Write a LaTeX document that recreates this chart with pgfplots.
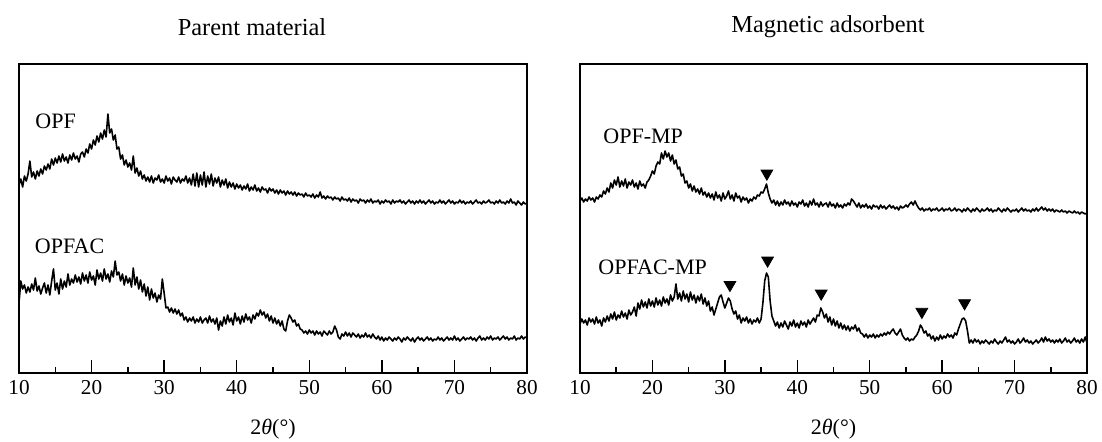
\documentclass[border=0pt]{standalone}
\usepackage{fontspec}
\setmainfont{Liberation Serif}
\usepackage{pgfplots}
\pgfplotsset{compat=1.18}
\begin{document}
\begin{tikzpicture}
\useasboundingbox (0,0) rectangle (551pt,220.5pt);
\pgfplotsset{xrdax/.style={
  scale only axis, height=154.5pt,
  xmin=10, xmax=80, ymin=0, ymax=309,
  xtick={10,20,...,80}, minor xtick={15,25,...,75},
  xtick pos=bottom, ytick=\empty,
  tick align=inside,
  major tick length=6.5pt, minor tick length=3pt,
  every tick/.append style={black, line width=0.75pt},
  axis line style={line width=0.9pt},
  xticklabel style={font=\fontsize{10.6}{12}\selectfont},
  /pgf/number format/assume math mode=true,
  anchor=south west,
}}
\pgfplotsset{xrdline/.style={black, line width=0.8pt, line join=round, mark=none}}
\pgfplotsset{tri/.style={only marks, mark=triangle*, mark size=3.4pt, mark options={rotate=180, fill=black, draw=black}}}

\begin{axis}[xrdax, width=254pt, at={(9.5pt,34pt)}]
\addplot[xrdline] coordinates {(10.00,188)(10.25,194)(10.50,186)(10.75,197)(11.00,192)(11.25,199)(11.50,212)(11.75,196)(12.00,201)(12.25,194)(12.50,202)(12.75,197)(13.00,204)(13.25,199)(13.50,207)(13.75,203)(14.00,209)(14.25,204)(14.50,214)(14.75,208)(15.00,215)(15.25,210)(15.50,217)(15.75,211)(16.00,219)(16.25,212)(16.50,216)(16.75,210)(17.00,218)(17.25,213)(17.50,220)(17.75,214)(18.00,217)(18.25,211)(18.50,219)(18.75,221)(19.00,216)(19.25,224)(19.50,220)(19.75,229)(20.00,224)(20.25,233)(20.50,228)(20.75,237)(21.00,231)(21.25,240)(21.50,234)(21.75,243)(22.00,236)(22.25,259)(22.50,240)(22.75,244)(23.00,233)(23.25,238)(23.50,224)(23.75,226)(24.00,214)(24.25,218)(24.50,208)(24.75,213)(25.00,206)(25.25,210)(25.50,203)(25.75,217)(26.00,200)(26.25,205)(26.50,197)(26.75,202)(27.00,194)(27.25,198)(27.50,192)(27.75,196)(28.00,191)(28.25,197)(28.50,190)(28.75,195)(29.00,193)(29.25,198)(29.50,191)(29.75,194)(30.00,190)(30.25,197)(30.50,192)(30.75,195)(31.00,189)(31.25,196)(31.50,193)(31.75,191)(32.00,196)(32.25,190)(32.50,194)(32.75,192)(33.00,197)(33.25,190)(33.50,195)(33.75,188)(34.00,199)(34.25,187)(34.50,200)(34.75,186)(35.00,198)(35.25,188)(35.50,201)(35.75,186)(36.00,197)(36.25,189)(36.50,199)(36.75,187)(37.00,195)(37.25,190)(37.50,196)(37.75,186)(38.00,193)(38.25,188)(38.50,194)(38.75,185)(39.00,191)(39.25,186)(39.50,190)(39.75,184)(40.00,189)(40.25,185)(40.50,188)(40.75,183)(41.00,187)(41.25,184)(41.50,189)(41.75,182)(42.00,186)(42.25,183)(42.50,188)(42.75,182)(43.00,185)(43.25,181)(43.50,186)(43.75,183)(44.00,184)(44.25,180)(44.50,185)(44.75,182)(45.00,184)(45.25,180)(45.50,183)(45.75,179)(46.00,183)(46.25,180)(46.50,182)(46.75,178)(47.00,182)(47.25,179)(47.50,181)(47.75,178)(48.00,181)(48.25,177)(48.50,180)(48.75,178)(49.00,179)(49.25,176)(49.50,180)(49.75,177)(50.00,178)(50.25,176)(50.50,179)(50.75,175)(51.00,178)(51.25,176)(51.50,181)(51.75,175)(52.00,177)(52.25,174)(52.50,177)(52.75,175)(53.00,176)(53.25,173)(53.50,176)(53.75,174)(54.00,175)(54.25,172)(54.50,176)(54.75,173)(55.00,174)(55.25,172)(55.50,175)(55.75,171)(56.00,174)(56.25,172)(56.50,173)(56.75,170)(57.00,174)(57.25,172)(57.50,173)(57.75,170)(58.00,173)(58.25,171)(58.50,174)(58.75,170)(59.00,172)(59.25,171)(59.50,173)(59.75,169)(60.00,172)(60.25,170)(60.50,173)(60.75,171)(61.00,172)(61.25,169)(61.50,173)(61.75,170)(62.00,172)(62.25,171)(62.50,173)(62.75,170)(63.00,172)(63.25,169)(63.50,171)(63.75,173)(64.00,170)(64.25,172)(64.50,169)(64.75,172)(65.00,170)(65.25,173)(65.50,170)(65.75,172)(66.00,169)(66.25,171)(66.50,173)(66.75,170)(67.00,172)(67.25,169)(67.50,171)(67.75,170)(68.00,173)(68.25,170)(68.50,172)(68.75,169)(69.00,171)(69.25,173)(69.50,170)(69.75,172)(70.00,169)(70.25,171)(70.50,170)(70.75,173)(71.00,170)(71.25,172)(71.50,169)(71.75,171)(72.00,170)(72.25,172)(72.50,169)(72.75,171)(73.00,173)(73.25,170)(73.50,171)(73.75,169)(74.00,172)(74.25,170)(74.50,171)(74.75,173)(75.00,170)(75.25,171)(75.50,169)(75.75,172)(76.00,170)(76.25,173)(76.50,170)(76.75,171)(77.00,169)(77.25,172)(77.50,170)(77.75,174)(78.00,170)(78.25,171)(78.50,168)(78.75,172)(79.00,170)(79.25,168)(79.50,171)(79.75,169)(80.00,170)};
\addplot[xrdline] coordinates {(10.00,70)(10.25,92)(10.50,84)(10.75,88)(11.00,80)(11.25,86)(11.50,81)(11.75,89)(12.00,83)(12.25,95)(12.50,82)(12.75,87)(13.00,79)(13.25,85)(13.50,90)(13.75,80)(14.00,88)(14.25,78)(14.50,92)(14.75,104)(15.00,83)(15.25,90)(15.50,79)(15.75,94)(16.00,84)(16.25,92)(16.50,86)(16.75,99)(17.00,88)(17.25,94)(17.50,90)(17.75,98)(18.00,91)(18.25,96)(18.50,89)(18.75,100)(19.00,92)(19.25,98)(19.50,90)(19.75,101)(20.00,93)(20.25,97)(20.50,88)(20.75,103)(21.00,94)(21.25,100)(21.50,92)(21.75,104)(22.00,94)(22.25,99)(22.50,91)(22.75,102)(23.00,96)(23.25,112)(23.50,98)(23.75,101)(24.00,92)(24.25,99)(24.50,88)(24.75,97)(25.00,90)(25.25,95)(25.50,86)(25.75,105)(26.00,88)(26.25,96)(26.50,84)(26.75,93)(27.00,81)(27.25,89)(27.50,77)(27.75,86)(28.00,73)(28.25,84)(28.50,75)(28.75,80)(29.00,71)(29.25,78)(29.50,74)(29.75,94)(30.00,80)(30.25,65)(30.50,66)(30.75,61)(31.00,65)(31.25,60)(31.50,64)(31.75,59)(32.00,63)(32.25,57)(32.50,60)(32.75,53)(33.00,56)(33.25,51)(33.50,55)(33.75,52)(34.00,56)(34.25,50)(34.50,54)(34.75,51)(35.00,56)(35.25,50)(35.50,53)(35.75,55)(36.00,50)(36.25,57)(36.50,51)(36.75,54)(37.00,49)(37.25,55)(37.50,43)(37.75,52)(38.00,47)(38.25,56)(38.50,49)(38.75,58)(39.00,51)(39.25,55)(39.50,48)(39.75,60)(40.00,52)(40.25,56)(40.50,49)(40.75,57)(41.00,51)(41.25,59)(41.50,53)(41.75,56)(42.00,50)(42.25,58)(42.50,54)(42.75,60)(43.00,57)(43.25,63)(43.50,58)(43.75,61)(44.00,55)(44.25,59)(44.50,52)(44.75,57)(45.00,50)(45.25,55)(45.50,49)(45.75,53)(46.00,47)(46.25,52)(46.50,44)(46.75,42)(47.00,52)(47.25,58)(47.50,55)(47.75,51)(48.00,53)(48.25,47)(48.50,49)(48.75,44)(49.00,43)(49.25,40)(49.50,42)(49.75,39)(50.00,43)(50.25,40)(50.50,42)(50.75,38)(51.00,42)(51.25,39)(51.50,41)(51.75,37)(52.00,42)(52.25,40)(52.50,38)(52.75,42)(53.00,39)(53.25,41)(53.50,47)(53.75,43)(54.00,36)(54.25,34)(54.50,39)(54.75,37)(55.00,41)(55.25,37)(55.50,40)(55.75,36)(56.00,40)(56.25,38)(56.50,36)(56.75,39)(57.00,35)(57.25,38)(57.50,36)(57.75,40)(58.00,36)(58.25,38)(58.50,35)(58.75,39)(59.00,36)(59.25,34)(59.50,37)(59.75,33)(60.00,36)(60.25,32)(60.50,35)(60.75,33)(61.00,36)(61.25,34)(61.50,32)(61.75,35)(62.00,33)(62.25,36)(62.50,34)(62.75,31)(63.00,35)(63.25,33)(63.50,36)(63.75,34)(64.00,32)(64.25,35)(64.50,31)(64.75,34)(65.00,36)(65.25,33)(65.50,35)(65.75,32)(66.00,34)(66.25,36)(66.50,33)(66.75,35)(67.00,32)(67.25,34)(67.50,33)(67.75,36)(68.00,33)(68.25,35)(68.50,32)(68.75,34)(69.00,36)(69.25,33)(69.50,35)(69.75,33)(70.00,37)(70.25,33)(70.50,35)(70.75,32)(71.00,34)(71.25,36)(71.50,33)(71.75,35)(72.00,34)(72.25,36)(72.50,33)(72.75,35)(73.00,32)(73.25,35)(73.50,37)(73.75,33)(74.00,35)(74.25,33)(74.50,36)(74.75,34)(75.00,37)(75.25,33)(75.50,35)(75.75,34)(76.00,36)(76.25,33)(76.50,35)(76.75,37)(77.00,34)(77.25,36)(77.50,33)(77.75,35)(78.00,34)(78.25,37)(78.50,33)(78.75,35)(79.00,34)(79.25,37)(79.50,34)(79.75,36)(80.00,35)};
\end{axis}

\begin{axis}[xrdax, width=253.5pt, at={(290pt,34pt)}]
\addplot[xrdline] coordinates {(10.00,172)(10.25,175)(10.50,171)(10.75,174)(11.00,172)(11.25,176)(11.50,173)(11.75,175)(12.00,171)(12.25,176)(12.50,174)(12.75,178)(13.00,176)(13.25,182)(13.50,179)(13.75,185)(14.00,181)(14.25,190)(14.50,185)(14.75,193)(15.00,188)(15.25,196)(15.50,186)(15.75,192)(16.00,187)(16.25,194)(16.50,185)(16.75,191)(17.00,188)(17.25,193)(17.50,186)(17.75,190)(18.00,184)(18.25,192)(18.50,187)(18.75,189)(19.00,185)(19.25,191)(19.50,193)(19.75,197)(20.00,202)(20.25,199)(20.50,207)(20.75,211)(21.00,209)(21.25,220)(21.50,214)(21.75,222)(22.00,216)(22.25,220)(22.50,212)(22.75,218)(23.00,209)(23.25,213)(23.50,204)(23.75,206)(24.00,197)(24.25,199)(24.50,190)(24.75,192)(25.00,185)(25.25,189)(25.50,182)(25.75,187)(26.00,181)(26.25,184)(26.50,179)(26.75,185)(27.00,178)(27.25,181)(27.50,176)(27.75,180)(28.00,175)(28.25,179)(28.50,173)(28.75,181)(29.00,175)(29.25,178)(29.50,172)(29.75,180)(30.00,174)(30.25,177)(30.50,182)(30.75,174)(31.00,178)(31.25,172)(31.50,180)(31.75,175)(32.00,177)(32.25,171)(32.50,176)(32.75,173)(33.00,175)(33.25,170)(33.50,174)(33.75,172)(34.00,176)(34.25,174)(34.50,178)(34.75,177)(35.00,181)(35.25,180)(35.50,184)(35.75,189)(36.00,180)(36.25,174)(36.50,170)(36.75,173)(37.00,168)(37.25,172)(37.50,167)(37.75,171)(38.00,168)(38.25,173)(38.50,169)(38.75,171)(39.00,167)(39.25,172)(39.50,168)(39.75,170)(40.00,166)(40.25,171)(40.50,169)(40.75,173)(41.00,167)(41.25,170)(41.50,166)(41.75,172)(42.00,168)(42.25,174)(42.50,168)(42.75,170)(43.00,166)(43.25,171)(43.50,167)(43.75,169)(44.00,170)(44.25,166)(44.50,171)(44.75,167)(45.00,169)(45.25,165)(45.50,170)(45.75,166)(46.00,168)(46.25,165)(46.50,169)(46.75,167)(47.00,170)(47.25,168)(47.50,174)(47.75,172)(48.00,169)(48.25,166)(48.50,170)(48.75,165)(49.00,168)(49.25,166)(49.50,169)(49.75,165)(50.00,167)(50.25,164)(50.50,168)(50.75,166)(51.00,167)(51.25,164)(51.50,168)(51.75,165)(52.00,167)(52.25,164)(52.50,166)(52.75,168)(53.00,165)(53.25,167)(53.50,164)(53.75,166)(54.00,163)(54.25,167)(54.50,165)(54.75,166)(55.00,168)(55.25,166)(55.50,169)(55.75,171)(56.00,168)(56.25,172)(56.50,168)(56.75,165)(57.00,163)(57.25,165)(57.50,162)(57.75,164)(58.00,163)(58.25,165)(58.50,162)(58.75,164)(59.00,163)(59.25,165)(59.50,162)(59.75,163)(60.00,165)(60.25,162)(60.50,164)(60.75,163)(61.00,165)(61.25,162)(61.50,163)(61.75,165)(62.00,162)(62.25,164)(62.50,163)(62.75,161)(63.00,164)(63.25,162)(63.50,165)(63.75,163)(64.00,161)(64.25,164)(64.50,162)(64.75,165)(65.00,163)(65.25,161)(65.50,164)(65.75,162)(66.00,163)(66.25,165)(66.50,162)(66.75,164)(67.00,161)(67.25,163)(67.50,162)(67.75,165)(68.00,163)(68.25,161)(68.50,164)(68.75,162)(69.00,165)(69.25,163)(69.50,161)(69.75,163)(70.00,162)(70.25,164)(70.50,161)(70.75,163)(71.00,165)(71.25,162)(71.50,164)(71.75,162)(72.00,163)(72.25,161)(72.50,164)(72.75,162)(73.00,165)(73.25,162)(73.50,164)(73.75,166)(74.00,163)(74.25,165)(74.50,162)(74.75,164)(75.00,162)(75.25,164)(75.50,161)(75.75,163)(76.00,162)(76.25,161)(76.50,163)(76.75,161)(77.00,162)(77.25,160)(77.50,162)(77.75,161)(78.00,160)(78.25,162)(78.50,160)(78.75,161)(79.00,159)(79.25,161)(79.50,160)(79.75,159)(80.00,160)};
\addplot[xrdline] coordinates {(10.00,49)(10.25,54)(10.50,50)(10.75,53)(11.00,48)(11.25,55)(11.50,51)(11.75,54)(12.00,49)(12.25,56)(12.50,50)(12.75,53)(13.00,47)(13.25,55)(13.50,51)(13.75,57)(14.00,52)(14.25,59)(14.50,54)(14.75,61)(15.00,53)(15.25,58)(15.50,55)(15.75,62)(16.00,56)(16.25,60)(16.50,54)(16.75,63)(17.00,58)(17.25,61)(17.50,66)(17.75,57)(18.00,70)(18.25,64)(18.50,73)(18.75,66)(19.00,71)(19.25,65)(19.50,74)(19.75,67)(20.00,72)(20.25,66)(20.50,75)(20.75,68)(21.00,73)(21.25,67)(21.50,76)(21.75,70)(22.00,74)(22.25,68)(22.50,78)(22.75,72)(23.00,76)(23.25,89)(23.50,74)(23.75,80)(24.00,72)(24.25,82)(24.50,74)(24.75,79)(25.00,71)(25.25,81)(25.50,73)(25.75,78)(26.00,70)(26.25,77)(26.50,72)(26.75,79)(27.00,69)(27.25,75)(27.50,67)(27.75,72)(28.00,62)(28.25,66)(28.50,58)(28.75,64)(29.00,70)(29.25,76)(29.50,78)(29.75,71)(30.00,65)(30.25,70)(30.50,75)(30.75,72)(31.00,64)(31.25,59)(31.50,62)(31.75,54)(32.00,58)(32.25,50)(32.50,55)(32.75,52)(33.00,56)(33.25,50)(33.50,54)(33.75,49)(34.00,53)(34.25,51)(34.50,55)(34.75,50)(35.00,54)(35.25,70)(35.50,92)(35.75,100)(36.00,96)(36.25,72)(36.50,57)(36.75,52)(37.00,47)(37.25,51)(37.50,45)(37.75,50)(38.00,46)(38.25,52)(38.50,48)(38.75,44)(39.00,51)(39.25,47)(39.50,53)(39.75,46)(40.00,50)(40.25,45)(40.50,52)(40.75,48)(41.00,51)(41.25,46)(41.50,53)(41.75,49)(42.00,52)(42.25,55)(42.50,51)(42.75,58)(43.00,57)(43.25,65)(43.50,61)(43.75,55)(44.00,59)(44.25,51)(44.50,56)(44.75,48)(45.00,54)(45.25,47)(45.50,52)(45.75,45)(46.00,50)(46.25,44)(46.50,48)(46.75,43)(47.00,47)(47.25,42)(47.50,46)(47.75,44)(48.00,48)(48.25,42)(48.50,45)(48.75,40)(49.00,39)(49.25,36)(49.50,39)(49.75,35)(50.00,38)(50.25,36)(50.50,39)(50.75,35)(51.00,38)(51.25,36)(51.50,39)(51.75,37)(52.00,40)(52.25,38)(52.50,41)(52.75,39)(53.00,42)(53.25,44)(53.50,40)(53.75,38)(54.00,41)(54.25,44)(54.50,38)(54.75,35)(55.00,33)(55.25,35)(55.50,32)(55.75,34)(56.00,33)(56.25,36)(56.50,38)(56.75,42)(57.00,48)(57.25,45)(57.50,40)(57.75,42)(58.00,37)(58.25,39)(58.50,34)(58.75,37)(59.00,32)(59.25,36)(59.50,33)(59.75,38)(60.00,34)(60.25,37)(60.50,35)(60.75,39)(61.00,36)(61.25,38)(61.50,35)(61.75,40)(62.00,38)(62.25,44)(62.50,49)(62.75,54)(63.00,55)(63.25,52)(63.50,42)(63.75,30)(64.00,33)(64.25,30)(64.50,34)(64.75,31)(65.00,33)(65.25,29)(65.50,32)(65.75,30)(66.00,33)(66.25,31)(66.50,29)(66.75,32)(67.00,30)(67.25,34)(67.50,31)(67.75,29)(68.00,32)(68.25,30)(68.50,33)(68.75,36)(69.00,31)(69.25,33)(69.50,30)(69.75,32)(70.00,29)(70.25,31)(70.50,34)(70.75,30)(71.00,32)(71.25,35)(71.50,31)(71.75,33)(72.00,30)(72.25,32)(72.50,29)(72.75,31)(73.00,33)(73.25,30)(73.50,32)(73.75,35)(74.00,31)(74.25,36)(74.50,32)(74.75,34)(75.00,31)(75.25,33)(75.50,30)(75.75,33)(76.00,31)(76.25,34)(76.50,30)(76.75,32)(77.00,35)(77.25,31)(77.50,33)(77.75,30)(78.00,32)(78.25,35)(78.50,31)(78.75,33)(79.00,30)(79.25,34)(79.50,31)(79.75,36)(80.00,30)};
\addplot[tri] coordinates {(35.8,199.6)(30.7,88.2)(35.9,112.6)(43.3,79.6)(57.2,61.3)(63.1,69.9)};
\end{axis}

\node[font=\fontsize{12.2}{14}\selectfont] at (126pt,207pt) {Parent material};
\node[font=\fontsize{12.2}{14}\selectfont] at (414pt,207pt) {Magnetic adsorbent};
\node[font=\fontsize{11}{13}\selectfont, anchor=west, inner sep=0pt] at (17.5pt,159.75pt) {OPF};
\node[font=\fontsize{11}{13}\selectfont, anchor=west, inner sep=0pt] at (17.25pt,97.25pt) {OPFAC};
\node[font=\fontsize{11}{13}\selectfont, anchor=west, inner sep=0pt] at (301.5pt,152.5pt) {OPF-MP};
\node[font=\fontsize{11}{13}\selectfont, anchor=west, inner sep=0pt] at (299pt,87pt) {OPFAC-MP};
\node[font=\fontsize{11}{13}\selectfont, inner sep=0pt] at (136.5pt,6pt) {2\textit{θ}(°)};
\node[font=\fontsize{11}{13}\selectfont, inner sep=0pt] at (416.75pt,6pt) {2\textit{θ}(°)};
\end{tikzpicture}
\end{document}
